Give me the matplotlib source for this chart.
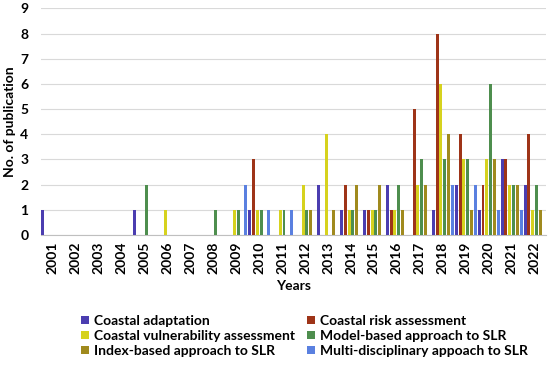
import numpy as np
import matplotlib
matplotlib.use("Agg")
import matplotlib.pyplot as plt

plt.rcParams['font.family'] = ['Lato', 'DejaVu Sans']
plt.rcParams['font.weight'] = 'bold'

years = [str(y) for y in range(2001, 2023)]

adaptation = [1, 0, 0, 0, 1, 0, 0, 0, 0, 1, 0, 0, 2, 1, 1, 2, 0, 1, 2, 1, 3, 2]
risk = [0, 0, 0, 0, 0, 0, 0, 0, 0, 3, 0, 0, 0, 2, 1, 1, 5, 8, 4, 2, 3, 4]
vulnerability = [0, 0, 0, 0, 0, 1, 0, 0, 1, 1, 1, 2, 4, 1, 1, 1, 2, 6, 3, 3, 2, 1]
model_based = [0, 0, 0, 0, 2, 0, 0, 1, 1, 1, 1, 1, 0, 1, 1, 2, 3, 3, 3, 6, 2, 2]
index_based = [0, 0, 0, 0, 0, 0, 0, 0, 0, 0, 0, 1, 1, 2, 2, 1, 2, 4, 1, 3, 2, 1]
multi = [0, 0, 0, 0, 0, 0, 0, 0, 2, 1, 1, 0, 0, 0, 0, 0, 0, 2, 2, 1, 1, 0]

series = [
    ("Coastal adaptation", adaptation, "#4B3DB0"),
    ("Coastal risk assessment", risk, "#9E3418"),
    ("Coastal vulnerability assessment", vulnerability, "#D6D21E"),
    ("Model-based approach to SLR", model_based, "#4E8E4E"),
    ("Index-based approach to SLR", index_based, "#A08A1E"),
    ("Multi-disciplinary appoach to SLR", multi, "#5A80E0"),
]

fig = plt.figure(figsize=(5.5, 3.66), dpi=100)
ax = fig.add_axes([0.0745, 0.358, 0.9185, 0.619])

x = np.arange(len(years))
n = len(series)
width = 1.0 / n
bars = []
for i, (label, vals, color) in enumerate(series):
    b = ax.bar(x - 0.5 + width * (i + 0.5), vals, width * 0.78,
               color=color, label=label, zorder=3)
    bars.append(b)

ax.set_xlim(-0.5, len(years) - 0.5)
ax.set_ylim(0, 9)
ax.set_yticks(range(10))
ax.set_xticks(x)
ax.set_xticklabels(years, rotation=90, fontsize=10, fontweight='bold')
ax.tick_params(axis='y', labelsize=10, length=0, pad=9)
ax.tick_params(axis='x', length=0, pad=5)
ax.grid(axis='y', color='#d9d9d9', linewidth=0.8, zorder=0)
for s in ['top', 'right', 'left']:
    ax.spines[s].set_visible(False)
ax.spines['bottom'].set_color('#bfbfbf')

ax.set_ylabel("No. of publication", fontsize=10, fontweight='bold', labelpad=3)
ax.set_xlabel("Years", fontsize=10, fontweight='bold', labelpad=4)

# legend is filled row by row, like the original
order = [0, 2, 4, 1, 3, 5]
fig.legend([bars[k] for k in order], [series[k][0] for k in order],
           loc='upper left', bbox_to_anchor=(0.148, 0.139), ncol=2,
           frameon=False, fontsize=10, handlelength=0.55, handleheight=0.55,
           handletextpad=0.35, columnspacing=0.9, labelspacing=0.2,
           borderaxespad=0, borderpad=0)

fig.savefig("out.png", dpi=100)
